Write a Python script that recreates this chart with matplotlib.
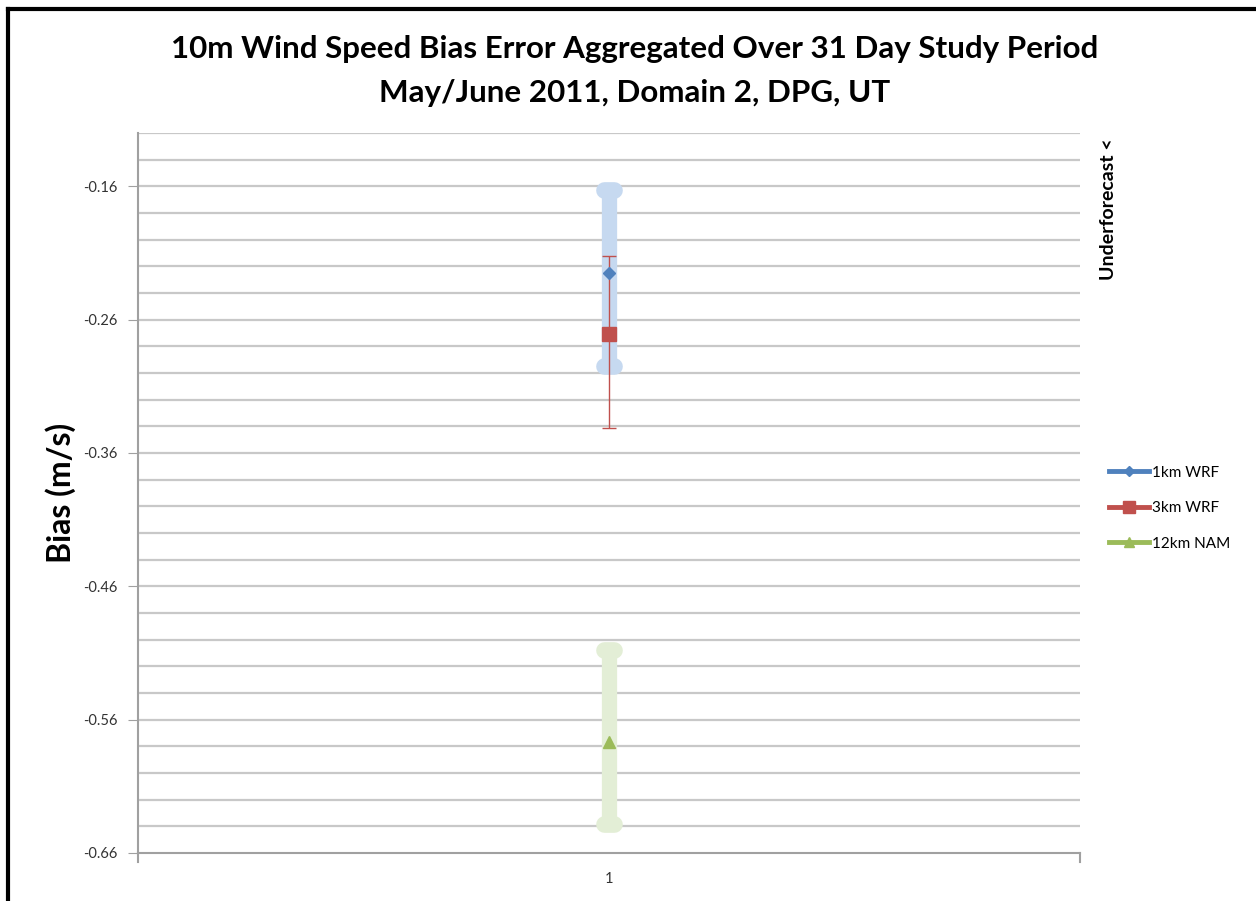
import numpy as np
import matplotlib.pyplot as plt
from matplotlib.lines import Line2D

# bias per model (m/s) with lower / upper error extents
models = ['1km WRF', '3km WRF', '12km NAM']
bias = [-0.225, -0.271, -0.577]
err_low = [0.070, 0.070, 0.061]
err_high = [0.062, 0.059, 0.069]
category = [1]
ytick_vals = [-0.66, -0.56, -0.46, -0.36, -0.26, -0.16]

colors = ['#4f81bd', '#c0504d', '#9bbb59']
err_colors = ['#c6d9f0', '#c0504d', '#e3eed6']
markers = ['D', 's', '^']
msizes = [6, 10, 8]

plt.rcParams['font.family'] = ['Lato', 'DejaVu Sans']

fig = plt.figure(figsize=(12.56, 9.01), dpi=100)
ax = fig.add_axes([0.1099, 0.0533, 0.75, 0.7991])

# wide pale bars with rounded caps for 1km and 12km
cap_half = 0.005
for i in [0, 2]:
    lo = bias[i] - err_low[i]
    hi = bias[i] + err_high[i]
    ax.vlines(category, lo, hi, color=err_colors[i], lw=11, zorder=2)
    ax.hlines([lo, hi], category[0] - cap_half, category[0] + cap_half,
              color=err_colors[i], lw=12, capstyle='round', zorder=2)
# thin red one for 3km
ax.errorbar(category, [bias[1]], yerr=[[err_low[1]], [err_high[1]]], fmt='none',
            ecolor=err_colors[1], elinewidth=1, capsize=5, capthick=1, zorder=3)
for i in range(3):
    ax.plot(category, [bias[i]], marker=markers[i], ms=msizes[i], color=colors[i],
            ls='none', zorder=4)

ax.set_xlim(0.5, 1.5)
ax.set_ylim(-0.66, -0.12)
ax.set_xticks([0.5, 1.0, 1.5])
ax.set_xticklabels(['', '1', ''])
ax.set_yticks(ytick_vals)
ax.set_yticklabels(['%.2f' % v for v in ytick_vals])
for y in np.arange(-0.64, -0.115, 0.02):
    ax.axhline(y, color='#c8c8c8', lw=1.6, zorder=1)

ax.tick_params(axis='y', length=7, color='#a0a0a0', labelsize=10.5, labelcolor='#333333', pad=8)
ax.tick_params(axis='x', length=0, labelsize=10.5, labelcolor='#333333', pad=14)
ax.plot([1.5, 1.5], [-0.66, -0.667], color='#a0a0a0', lw=1.5, clip_on=False)
ax.plot([0.5, 0.5], [-0.66, -0.667], color='#a0a0a0', lw=1.5, clip_on=False)
for side in ['top', 'right']:
    ax.spines[side].set_visible(False)
for side in ['left', 'bottom']:
    ax.spines[side].set_color('#a0a0a0')
    ax.spines[side].set_linewidth(1.5)

ax.set_ylabel('Bias (m/s)', fontsize=23, fontweight='bold', labelpad=4.5)

fig.text(0.5055, 0.946, '10m Wind Speed Bias Error Aggregated Over 31 Day Study Period',
         ha='center', va='center', fontsize=22.6, fontweight='bold')
fig.text(0.5055, 0.897, 'May/June 2011, Domain 2, DPG, UT',
         ha='center', va='center', fontsize=22.6, fontweight='bold')
fig.text(0.8825, 0.768, 'Underforecast <', rotation=90, ha='center', va='center',
         fontsize=14, fontweight='bold')

handles = [Line2D([0], [0], color=colors[i], lw=3.5, marker=markers[i],
                  ms=msizes[i] * 0.9) for i in range(3)]
fig.legend(handles, models, loc='center left', bbox_to_anchor=(0.872, 0.436),
           frameon=False, fontsize=11, handlelength=2.6, handletextpad=0.2,
           labelspacing=1.4)

# outer chart frame (top and left edges)
fig.add_artist(Line2D([0.0064, 1.0], [0.9895, 0.9895], color='black', lw=3,
                      transform=fig.transFigure))
fig.add_artist(Line2D([0.0064, 0.0064], [0.0, 0.9895], color='black', lw=3,
                      transform=fig.transFigure))

fig.savefig('out.png', dpi=100)
